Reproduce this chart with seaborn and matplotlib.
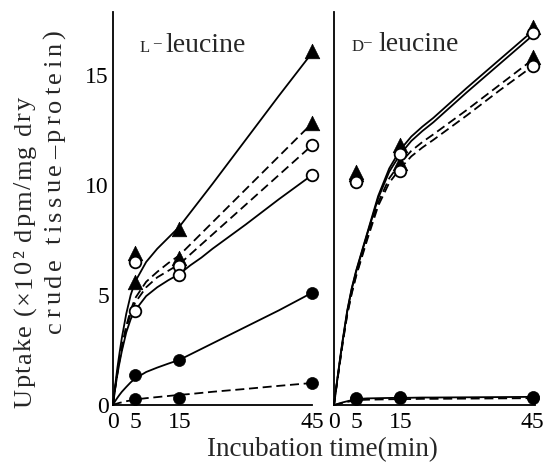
import matplotlib
matplotlib.use("Agg")
import numpy as np
import pandas as pd
import seaborn as sns
import matplotlib.pyplot as plt

# ---------------- data ----------------
t_curve = [0, 0.5, 1, 1.5, 2, 3, 4, 5, 7.5, 10, 12.5, 15, 17.5, 20, 22.5, 30, 37.5, 45]

# L-leucine fitted curves
L_solid_tri  = [0, 0.9, 1.7, 2.4, 3.05, 4.15, 5.0, 5.6, 6.5, 7.1, 7.6, 8.1, 8.75, 9.4, 10.05, 12.05, 14.05, 16.0]
L_dash_tri   = [0, 0.8, 1.5, 2.1, 2.65, 3.6, 4.3, 4.85, 5.6, 6.05, 6.45, 6.8, 7.3, 7.8, 8.3, 9.8, 11.3, 12.8]
L_dash_open  = [0, 0.78, 1.45, 2.05, 2.55, 3.5, 4.15, 4.65, 5.35, 5.8, 6.1, 6.4, 6.85, 7.3, 7.75, 9.1, 10.45, 11.8]
L_solid_open = [0, 0.75, 1.4, 1.95, 2.45, 3.3, 3.9, 4.3, 4.95, 5.35, 5.67, 5.95, 6.35, 6.7, 7.1, 8.2, 9.35, 10.45]
L_solid_fill = [0, 0.18, 0.33, 0.47, 0.6, 0.82, 1.03, 1.2, 1.5, 1.7, 1.88, 2.05, 2.3, 2.55, 2.8, 3.55, 4.3, 5.1]
L_dash_fill  = [0, 0.04, 0.07, 0.1, 0.12, 0.17, 0.21, 0.25, 0.31, 0.36, 0.41, 0.46, 0.5, 0.55, 0.6, 0.73, 0.87, 1.0]

# D-leucine fitted curves
R_solid_tri  = [0, 0.8, 1.55, 2.3, 3.0, 4.3, 5.3, 6.1, 7.8, 9.5, 10.75, 11.6, 12.2, 12.65, 13.05, 14.4, 15.7, 17.0]
R_solid_open = [0, 0.78, 1.52, 2.25, 2.95, 4.25, 5.25, 6.05, 7.75, 9.4, 10.6, 11.4, 12.0, 12.45, 12.85, 14.2, 15.5, 16.8]
R_dash_tri   = [0, 0.75, 1.48, 2.2, 2.9, 4.15, 5.1, 5.9, 7.6, 9.2, 10.3, 11.0, 11.55, 11.95, 12.3, 13.4, 14.55, 15.7]
R_dash_open  = [0, 0.73, 1.45, 2.15, 2.85, 4.1, 5.05, 5.85, 7.5, 9.05, 10.1, 10.75, 11.3, 11.7, 12.05, 13.15, 14.3, 15.4]
R_solid_fill = [0, 0.03, 0.06, 0.09, 0.12, 0.17, 0.22, 0.27, 0.3, 0.31, 0.32, 0.33, 0.33, 0.34, 0.34, 0.35, 0.36, 0.37]
R_dash_fill  = [0, 0.02, 0.05, 0.07, 0.1, 0.14, 0.18, 0.22, 0.24, 0.25, 0.26, 0.27, 0.27, 0.28, 0.28, 0.29, 0.3, 0.31]

# measured points
t_pts = [5, 15, 45]
L_tri_a  = [6.9, 8.0, 16.1]
L_tri_b  = [5.6, 6.7, 12.8]
L_open_a = [6.5, 6.3, 11.8]
L_open_b = [4.25, 5.9, 10.45]
L_fill_a = [1.35, 2.05, 5.1]
L_fill_b = [0.25, 0.3, 1.0]

R_tri_a  = [10.6, 11.8, 17.2]
R_tri_b  = [10.5, 11.0, 15.8]
R_open_a = [10.2, 11.4, 16.9]
R_open_b = [10.15, 10.65, 15.4]
R_fill_a = [0.3, 0.35, 0.35]
R_fill_b = [0.28, 0.33, 0.33]

x_ticks = [0, 5, 15, 45]
y_ticks = [0, 5, 10, 15]
xlabel = "Incubation time(min)"
ylabel1 = "Uptake (×10² dpm/mg dry"
ylabel2 = "crude tissue–protein)"

# ---------------- style ----------------
sns.set_theme(style="white")
FONT = ["Liberation Serif", "DejaVu Serif", "Noto Sans CJK JP"]
plt.rcParams["font.family"] = FONT
plt.rcParams["axes.linewidth"] = 1.3

W, H = 550, 467
fig = plt.figure(figsize=(W / 100, H / 100), dpi=100)
fig.patch.set_facecolor("white")

axL = fig.add_axes([113 / W, (H - 405) / H, 199 / W, 393 / H])
axR = fig.add_axes([334 / W, (H - 405) / H, 201 / W, 393 / H])

LW = 1.3
DASH = (0, (5, 2.6))


def draw_panel(ax, curves, tri, opn, fill):
    for vals, ls in curves:
        sns.lineplot(x=t_curve, y=vals, ax=ax, color="black", lw=LW,
                     linestyle=ls, clip_on=False, zorder=2,
                     errorbar=None, sort=False)
    for v in tri:
        sns.scatterplot(x=t_pts, y=v, ax=ax, marker="^", s=110, color="black",
                        edgecolor="black", linewidth=0.5, zorder=4, clip_on=False)
    for v in opn:
        sns.scatterplot(x=t_pts, y=v, ax=ax, marker="o", s=70, color="white",
                        edgecolor="black", linewidth=1.3, zorder=5, clip_on=False)
    for v in fill:
        sns.scatterplot(x=t_pts, y=v, ax=ax, marker="o", s=75, color="black",
                        edgecolor="black", linewidth=0.5, zorder=5, clip_on=False)


draw_panel(axL,
           [(L_solid_tri, "-"), (L_dash_tri, DASH), (L_dash_open, DASH),
            (L_solid_open, "-"), (L_solid_fill, "-"), (L_dash_fill, DASH)],
           [L_tri_a, L_tri_b], [L_open_a, L_open_b], [L_fill_a, L_fill_b])
draw_panel(axR,
           [(R_solid_tri, "-"), (R_solid_open, "-"), (R_dash_tri, DASH),
            (R_dash_open, DASH), (R_solid_fill, "-"), (R_dash_fill, DASH)],
           [R_tri_a, R_tri_b], [R_open_a, R_open_b], [R_fill_a, R_fill_b])

for ax in (axL, axR):
    ax.set_facecolor("white")
    ax.set_ylim(0, 17.86)
    for s in ("top", "right"):
        ax.spines[s].set_visible(False)
    for s in ("left", "bottom"):
        ax.spines[s].set_color("black")
    ax.set_xticks(x_ticks)
    ax.set_xticklabels([str(v) for v in x_ticks], fontsize=17)
    ax.tick_params(axis="x", length=0, pad=5, colors="black")
    ax.set_xlabel("")
    ax.set_ylabel("")

axL.set_xlim(0, 45)
axR.set_xlim(0, 45.5)

axL.set_yticks(y_ticks)
axL.set_yticklabels([str(v) for v in y_ticks], fontsize=17)
axL.tick_params(axis="y", direction="in", length=6, width=1, pad=3, colors="black")
axL.set_xticks([45], minor=True)
axL.tick_params(axis="x", which="minor", direction="in", length=8, width=1, colors="black")

axR.set_yticks(y_ticks[1:])
axR.set_yticklabels([])
axR.tick_params(axis="y", direction="in", length=6, width=1, colors="black")


def px(x, y):
    return x / W, (H - y) / H


renderer = fig.canvas.get_renderer()


def text_w(s, size):
    t = fig.text(0, 0, s, fontsize=size)
    w = t.get_window_extent(renderer).width
    t.remove()
    return w


def advance(ch, size):
    return text_w("|" + ch + "|", size) - text_w("||", size)


def tracked_vertical(xb, yc, s, size, length):
    """Vertical (rotated 90) text with letter spacing, baseline at x=xb px,
    centred on yc px (from top), spanning `length` px."""
    adv = [advance(ch, size) for ch in s]
    track = (length - sum(adv)) / (len(s) - 1)
    pos = yc + length / 2.0
    for ch, a in zip(s, adv):
        fig.text(*px(xb, pos), ch, fontsize=size, rotation=90,
                 rotation_mode="anchor", ha="left", va="baseline")
        pos -= a + track


# panel titles
fig.text(*px(140, 52), "L", fontsize=12, ha="left", va="baseline")
fig.text(*px(153, 47), "–", fontsize=11, ha="left", va="baseline")
fig.text(*px(165, 52), "leucine", fontsize=20, ha="left", va="baseline")
fig.text(*px(352, 51), "D", fontsize=12, ha="left", va="baseline")
fig.text(*px(363, 46), "–", fontsize=11, ha="left", va="baseline")
fig.text(*px(378, 51), "leucine", fontsize=20, ha="left", va="baseline")

# axis labels
fig.text(*px(322, 456), xlabel, fontsize=19.5, ha="center", va="baseline")
tracked_vertical(31, 252.5, ylabel1, 19, 311)
tracked_vertical(61, 181.5, ylabel2, 19, 303)

fig.savefig("out.png", dpi=100, facecolor="white")
